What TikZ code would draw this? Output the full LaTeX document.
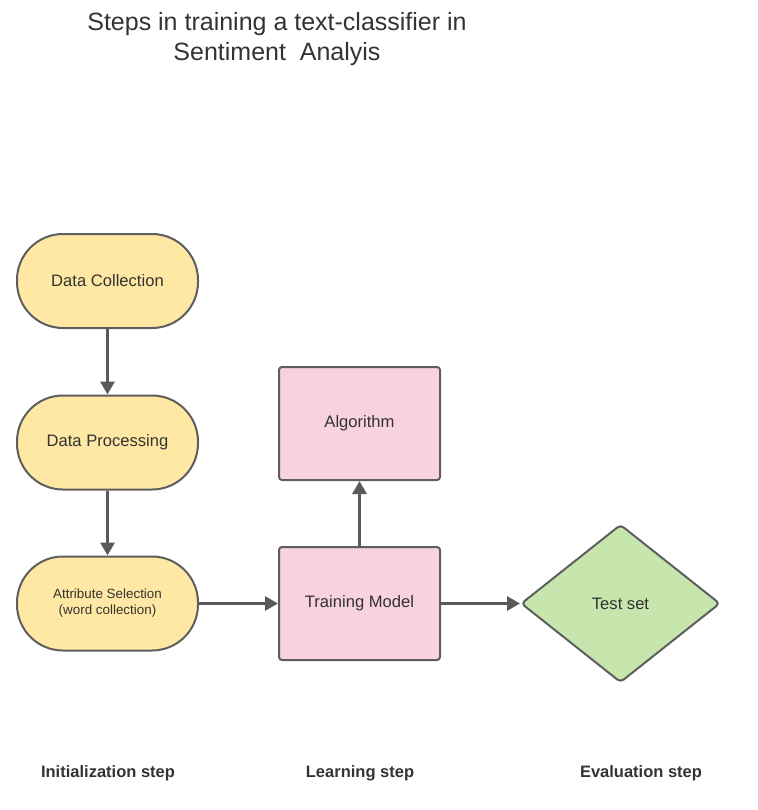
\documentclass[tikz,border=0pt]{standalone}
\usepackage{fontspec}
\setmainfont{Liberation Sans}
\usetikzlibrary{shapes.geometric,arrows.meta}
\definecolor{edgegray}{HTML}{5E5E5E}
\definecolor{arrowgray}{HTML}{5A5A5A}
\definecolor{txt}{HTML}{333333}
\definecolor{yellowfill}{HTML}{FFE8A3}
\definecolor{pinkfill}{HTML}{F8D2DC}
\definecolor{greenfill}{HTML}{C6E6AE}
\tikzset{
  base/.style={draw=edgegray, line width=2pt, text=txt, inner sep=2pt, align=center, font=\fontsize{16.6}{19}\selectfont},
  stadium/.style={base, fill=yellowfill, rectangle, rounded corners=46pt, minimum width=181pt, minimum height=94pt},
  box/.style={base, fill=pinkfill, rectangle, rounded corners=3pt, minimum width=161pt, minimum height=113pt},
  decision/.style={base, fill=greenfill, diamond, rounded corners=4pt, inner sep=0pt, minimum width=199pt, minimum height=158pt},
  conn/.style={draw=arrowgray, line width=3pt, -{Triangle[length=13pt,width=14pt]}},
  steplabel/.style={text=txt, font=\fontsize{16.5}{19}\selectfont\bfseries},
  titletext/.style={text=txt, align=center, font=\fontsize{25}{30}\selectfont}
}
\begin{document}
\begin{tikzpicture}[x=1pt,y=-1pt]
\useasboundingbox (0,0) rectangle (757,810);
\node[titletext] (title) at (277,39.5) {Steps in training a text-classifier in\\Sentiment~~Analyis};
\node[stadium] (dc) at (107.5,281) {\raisebox{2pt}{Data Collection}};
\node[stadium] (dp) at (107.5,442.5) {\raisebox{1pt}{Data Processing}};
\node[stadium, font=\fontsize{13.4}{16}\selectfont] (as) at (107.5,603.5) {Attribute Selection\\(word collection)};
\node[box] (alg) at (359.5,423.5) {Algorithm};
\node[box] (tm) at (359.5,603.5) {Training Model};
\node[decision] (ts) at (620.5,603.5) {Test set};
\draw[conn] (dc) -- (dp);
\draw[conn] (dp) -- (as);
\draw[conn] (as) -- (tm);
\draw[conn] (tm) -- (alg);
\draw[conn] (tm) -- (ts);
\node[steplabel] (l1) at (108,773) {Initialization step};
\node[steplabel] (l2) at (360,773) {Learning step};
\node[steplabel] (l3) at (641,773) {Evaluation step};
\end{tikzpicture}
\end{document}
